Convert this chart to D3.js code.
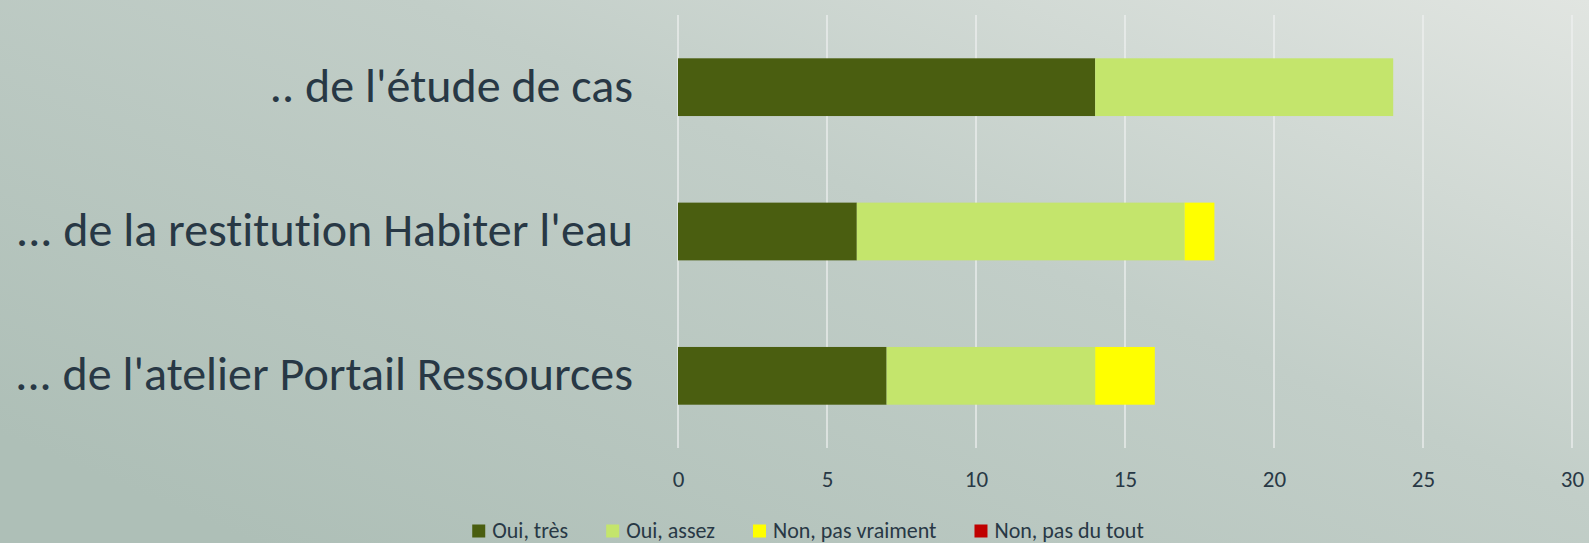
<!DOCTYPE html>
<html>
<head>
<meta charset="utf-8">
<script src="https://cdn.jsdelivr.net/npm/d3@7"></script>
<style>
  html, body { margin: 0; padding: 0; overflow: hidden; }
  svg { display: block; }
  text { font-family: Calibri, Carlito, Lato, sans-serif; fill: #283845; font-variant-ligatures: none; }
</style>
</head>
<body>
<svg id="chart"></svg>
<script>
const width = 1589;
const height = 543;

// data
const categories = [".. de l'étude de cas", "... de la restitution Habiter l'eau", "... de l'atelier Portail Ressources"];
const seriesNames = ["Oui, très", "Oui, assez", "Non, pas vraiment", "Non, pas du tout"];
const ouiTres = [14, 6, 7];
const ouiAssez = [10, 11, 7];
const nonPasVraiment = [0, 1, 2];
const nonPasDuTout = [0, 0, 0];
const xTicks = [0, 5, 10, 15, 20, 25, 30];
const colors = ["#4a5e10", "#c4e56c", "#ffff00", "#c00000"];

const rows = categories.map((c, i) => ({
  cat: c,
  "Oui, très": ouiTres[i],
  "Oui, assez": ouiAssez[i],
  "Non, pas vraiment": nonPasVraiment[i],
  "Non, pas du tout": nonPasDuTout[i]
}));

const plot = { left: 678, right: 1572, top: 15, bottom: 448 };

const svg = d3.select('#chart')
  .attr('width', width)
  .attr('height', height)
  .attr('viewBox', `0 0 ${width} ${height}`);

// background gradient
const defs = svg.append('defs');
const grad = defs.append('linearGradient')
  .attr('id', 'bg')
  .attr('x1', 0).attr('y1', 0.8)
  .attr('x2', 1).attr('y2', 0);
grad.append('stop').attr('offset', '0%').attr('stop-color', '#aebfb7');
grad.append('stop').attr('offset', '55%').attr('stop-color', '#c2cec8');
grad.append('stop').attr('offset', '100%').attr('stop-color', '#e1e5e1');

svg.append('rect')
  .attr('width', width)
  .attr('height', height)
  .attr('fill', 'url(#bg)');

const x = d3.scaleLinear().domain([0, 30]).range([plot.left, plot.right]);
const y = d3.scaleBand()
  .domain(categories)
  .range([plot.top, plot.bottom])
  .paddingInner(0.6)
  .paddingOuter(0.3);

// gridlines
svg.append('g')
  .selectAll('line')
  .data(xTicks)
  .join('line')
  .attr('x1', d => x(d)).attr('x2', d => x(d))
  .attr('y1', plot.top).attr('y2', plot.bottom)
  .attr('stroke', '#eef1f1')
  .attr('stroke-opacity', 0.85)
  .attr('stroke-width', 1.5);

// stacked bars
const stack = d3.stack().keys(seriesNames);
const layers = stack(rows);

svg.append('g')
  .selectAll('g')
  .data(layers)
  .join('g')
  .attr('fill', (d, i) => colors[i])
  .selectAll('rect')
  .data(d => d.filter(p => p[1] - p[0] > 0))
  .join('rect')
  .attr('x', d => x(d[0]))
  .attr('width', d => x(d[1]) - x(d[0]))
  .attr('y', d => y(d.data.cat))
  .attr('height', y.bandwidth());

// x axis labels
const xAxis = d3.axisBottom(x).tickValues(xTicks).tickSize(0).tickPadding(0);
const gx = svg.append('g')
  .attr('transform', 'translate(0,479)')
  .call(xAxis);
gx.select('.domain').remove();
gx.selectAll('text')
  .attr('dy', '0.34em')
  .attr('font-size', 23)
  .style('font-family', null)
  .attr('fill', null);

// category labels
const yAxis = d3.axisLeft(y).tickSize(0).tickPadding(0);
const gy = svg.append('g')
  .attr('transform', 'translate(633,0)')
  .call(yAxis);
gy.select('.domain').remove();
gy.selectAll('text')
  .attr('dy', '0.3em')
  .attr('font-size', 48)
  .style('font-family', null)
  .attr('fill', null);

// legend
const legend = svg.append('g').attr('transform', 'translate(0,531)');
const items = legend.selectAll('g')
  .data(seriesNames)
  .join('g');
items.append('rect')
  .attr('width', 13).attr('height', 13)
  .attr('y', -6.5)
  .attr('fill', (d, i) => colors[i]);
items.append('text')
  .attr('x', 20)
  .attr('dy', '0.34em')
  .attr('font-size', 22)
  .text(d => d);

let offset = 0;
const starts = [];
items.each(function () {
  const w = 20 + d3.select(this).select('text').node().getComputedTextLength();
  starts.push(offset);
  offset += w + 38;
});
const totalW = offset - 38;
const startX = 808 - totalW / 2;
items.attr('transform', (d, i) => 'translate(' + (startX + starts[i]) + ',0)');
</script>
</body>
</html>
